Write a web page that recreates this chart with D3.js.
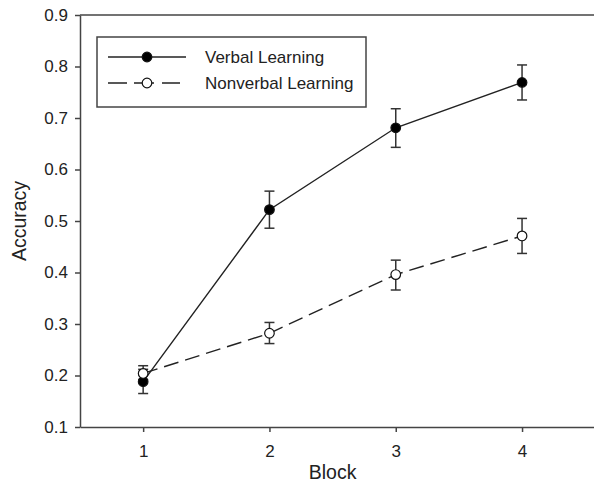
<!DOCTYPE html>
<html>
<head>
<script src="https://d3js.org/d3.v7.min.js"></script>
<style>
	body, html {
		margin: 0;
		padding: 0;
		background: #fff;
		font-family: "Liberation Sans", Arial, sans-serif;
	}
	.axis path, .axis line {
		fill: none;
		stroke: #444;
		stroke-width: 1.5;
	}
	.label {
		font-size: 19.5px;
		fill: #222;
	}
	.legend-text {
		font-size: 17px;
		fill: #222;
	}
</style>
</head>
<body>
<script>

	var blocks = [1, 2, 3, 4];
	var verbalMean = [0.188, 0.522, 0.681, 0.769];
	var verbalLow  = [0.165, 0.486, 0.643, 0.735];
	var verbalHigh = [0.212, 0.558, 0.718, 0.803];
	var nonverbalMean = [0.204, 0.282, 0.396, 0.471];
	var nonverbalLow  = [0.192, 0.262, 0.366, 0.437];
	var nonverbalHigh = [0.219, 0.303, 0.424, 0.505];
	var yTicks = [0.1, 0.2, 0.3, 0.4, 0.5, 0.6, 0.7, 0.8, 0.9];
	var seriesNames = ["Verbal Learning", "Nonverbal Learning"];

	var w = 594, h = 483;
	var margin = {top: 15, right: 0, bottom: 56, left: 80};
	var width = w - margin.left - margin.right;
	var height = h - margin.top - margin.bottom;

	var svg = d3.select("body").append("svg")
		.attr("width", w)
		.attr("height", h);

	var chart = svg.append("g")
		.attr("transform", "translate(" + margin.left + "," + margin.top + ")");

	var x = d3.scaleLinear()
		.domain([0.5, 0.5 + width / 126.3])
		.range([0, width]);

	var y = d3.scaleLinear()
		.domain([0.1, 0.9])
		.range([height, 0]);

	// frame top
	chart.append("line")
		.attr("x1", 0).attr("x2", width)
		.attr("y1", 0).attr("y2", 0)
		.style("stroke", "#444").style("stroke-width", 1.5);

	var xAxisG = chart.append("g")
		.attr("class", "axis")
		.attr("transform", "translate(0," + height + ")")
		.call(d3.axisBottom(x).tickValues(blocks).tickFormat(d3.format("d")).tickSize(5).tickSizeOuter(0).tickPadding(13));

	var yAxisG = chart.append("g")
		.attr("class", "axis")
		.call(d3.axisLeft(y).tickValues(yTicks).tickFormat(d3.format(".1f")).tickSize(5).tickSizeOuter(0).tickPadding(7));

	[xAxisG, yAxisG].forEach(function(g){
		g.attr("font-size", 17).attr("font-family", "Liberation Sans, Arial, sans-serif");
		g.selectAll("text").attr("fill", "#222");
	});

	svg.append("text")
		.attr("class", "label")
		.attr("text-anchor", "middle")
		.attr("x", margin.left + x(2.5))
		.attr("y", 479)
		.text("Block");

	svg.append("text")
		.attr("class", "label")
		.attr("text-anchor", "middle")
		.attr("transform", "translate(26," + (margin.top + height / 2) + ") rotate(-90)")
		.text("Accuracy");

	var series = [
		{name: seriesNames[0], mean: verbalMean, low: verbalLow, high: verbalHigh, fill: "#000", dash: null},
		{name: seriesNames[1], mean: nonverbalMean, low: nonverbalLow, high: nonverbalHigh, fill: "#fff", dash: "15,7"}
	];

	var line = d3.line()
		.x(function(d){ return x(d.b); })
		.y(function(d){ return y(d.v); });

	series.forEach(function(s){
		var pts = blocks.map(function(b, i){
			return {b: b, v: s.mean[i], lo: s.low[i], hi: s.high[i]};
		});
		chart.append("path")
			.datum(pts)
			.attr("d", line)
			.style("fill", "none")
			.style("stroke", "#222")
			.style("stroke-width", 1.4)
			.style("stroke-dasharray", s.dash);

		var eb = chart.selectAll(null).data(pts).enter().append("g")
			.style("stroke", "#333").style("stroke-width", 1.5);
		eb.append("line")
			.attr("x1", function(d){ return x(d.b); })
			.attr("x2", function(d){ return x(d.b); })
			.attr("y1", function(d){ return y(d.lo); })
			.attr("y2", function(d){ return y(d.hi); });
		eb.append("line")
			.attr("x1", function(d){ return x(d.b) - 5; })
			.attr("x2", function(d){ return x(d.b) + 5; })
			.attr("y1", function(d){ return y(d.lo); })
			.attr("y2", function(d){ return y(d.lo); });
		eb.append("line")
			.attr("x1", function(d){ return x(d.b) - 5; })
			.attr("x2", function(d){ return x(d.b) + 5; })
			.attr("y1", function(d){ return y(d.hi); })
			.attr("y2", function(d){ return y(d.hi); });
	});

	series.forEach(function(s){
		chart.selectAll(null).data(blocks).enter().append("circle")
			.attr("cx", function(d){ return x(d); })
			.attr("cy", function(d, i){ return y(s.mean[i]); })
			.attr("r", 4.8)
			.style("fill", s.fill)
			.style("stroke", "#111")
			.style("stroke-width", 1.2);
	});

	// legend
	var legend = svg.append("g");
	legend.append("rect")
		.attr("x", 97).attr("y", 37)
		.attr("width", 269).attr("height", 70)
		.style("fill", "#fff").style("stroke", "#444").style("stroke-width", 1.5);

	var rows = legend.selectAll(null).data(series).enter().append("g")
		.attr("transform", function(d, i){ return "translate(0," + (57 + i * 26) + ")"; });
	rows.append("line")
		.attr("x1", 108).attr("x2", function(d){ return d.dash ? 180 : 186; })
		.attr("y1", 0).attr("y2", 0)
		.style("stroke", "#222").style("stroke-width", 1.4)
		.style("stroke-dasharray", function(d){ return d.dash ? "19,7,20,8,18" : null; });
	rows.append("circle")
		.attr("cx", 147).attr("cy", 0).attr("r", 4.8)
		.style("fill", function(d){ return d.fill; })
		.style("stroke", "#111").style("stroke-width", 1.2);
	rows.append("text")
		.attr("class", "legend-text")
		.attr("x", 205).attr("y", 6)
		.text(function(d){ return d.name; });

</script>
</body>
</html>
